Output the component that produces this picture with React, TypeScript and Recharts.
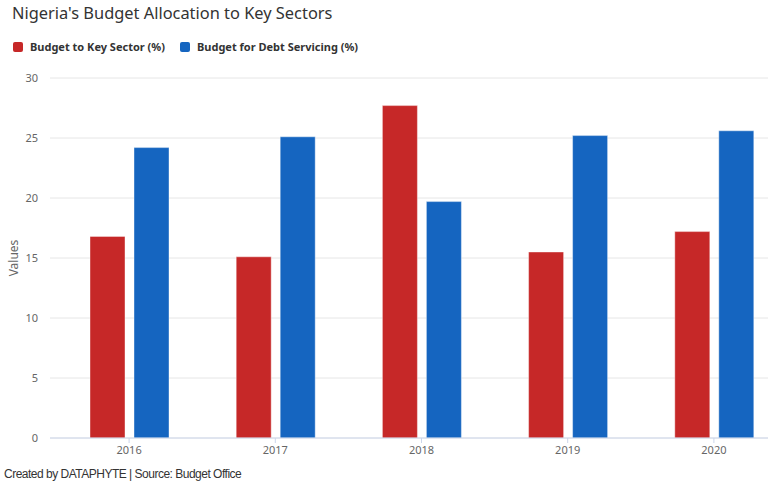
import React from "react";
import {
  BarChart,
  Bar,
  XAxis,
  YAxis,
  CartesianGrid,
  Label,
} from "recharts";

const years = ["2016", "2017", "2018", "2019", "2020"];
const keySector = [16.8, 15.1, 27.7, 15.5, 17.2];
const debtServicing = [24.2, 25.1, 19.7, 25.2, 25.6];
const yTicks = [0, 5, 10, 15, 20, 25, 30];

const series = [
  { key: "keySector", name: "Budget to Key Sector (%)", color: "#c62828" },
  { key: "debt", name: "Budget for Debt Servicing (%)", color: "#1565c0" },
];

const data = years.map((year, i) => ({
  year,
  keySector: keySector[i],
  debt: debtServicing[i],
}));

const font = "'Noto Sans', 'DejaVu Sans', sans-serif";

export default function App() {
  return (
    <div
      style={{
        position: "absolute",
        left: 0,
        top: 0,
        width: 768,
        height: 489,
        overflow: "hidden",
        background: "#fff",
        fontFamily: font,
      }}
    >
      <div style={{ position: "absolute", left: 12, top: 1, fontSize: 16.4, color: "#333" }}>
        Nigeria's Budget Allocation to Key Sectors
      </div>
      <div
        style={{
          position: "absolute",
          left: 13,
          top: 39,
          display: "flex",
          fontSize: 11,
          fontWeight: "bold",
          color: "#333",
        }}
      >
        {series.map((s) => (
          <div key={s.key} style={{ display: "flex", alignItems: "center", marginRight: 15 }}>
            <span
              style={{
                display: "inline-block",
                width: 10,
                height: 10,
                borderRadius: 2,
                background: s.color,
                marginRight: 7,
              }}
            />
            <span>{s.name}</span>
          </div>
        ))}
      </div>
      <div style={{ position: "absolute", left: 0, top: 0 }}>
        <BarChart
          width={800}
          height={489}
          data={data}
          margin={{ top: 78, right: 13, bottom: 21, left: 0 }}
          barSize={35}
          barGap={9}
        >
          <CartesianGrid vertical={false} stroke="#e6e6e6" />
          <XAxis
            dataKey="year"
            padding={{ left: 6, right: 0 }}
            tick={{ fill: "#666", fontSize: 11 }}
            tickSize={5}
            tickMargin={3}
            tickLine={{ stroke: "#ccd6eb" }}
            axisLine={{ stroke: "#ccd6eb" }}
            height={30}
          />
          <YAxis
            width={50}
            domain={[0, 30]}
            ticks={yTicks}
            tick={{ fill: "#666", fontSize: 11 }}
            tickSize={0}
            tickMargin={12}
            axisLine={false}
          >
            <Label
              value="Values"
              angle={-90}
              position="insideLeft"
              offset={14}
              style={{ fill: "#666", fontSize: 12, textAnchor: "middle" }}
            />
          </YAxis>
          {series.map((s) => (
            <Bar
              key={s.key}
              dataKey={s.key}
              name={s.name}
              fill={s.color}
              stroke="#ffffff"
              strokeOpacity={0.4}
              isAnimationActive={false}
            />
          ))}
        </BarChart>
      </div>
      <div
        style={{
          position: "absolute",
          left: 4,
          top: 467,
          fontSize: 12,
          letterSpacing: -0.5,
          color: "#333",
          fontFamily: "'Liberation Sans Narrow', 'Liberation Sans', sans-serif",
        }}
      >
        Created by DATAPHYTE | Source: Budget Office
      </div>
    </div>
  );
}
